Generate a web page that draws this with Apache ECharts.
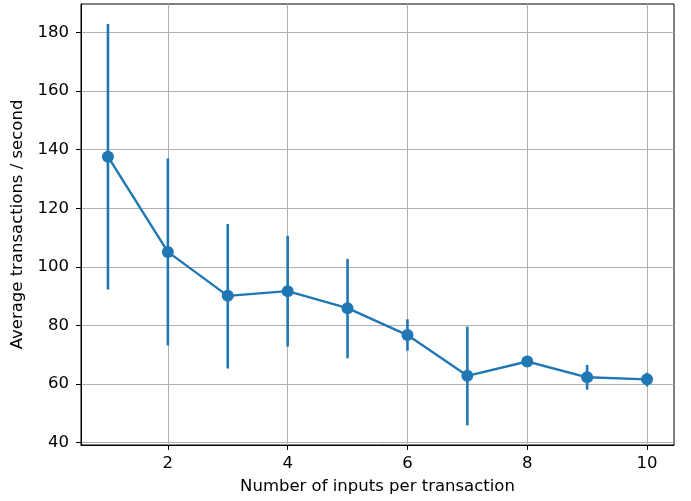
<!DOCTYPE html>
<html>
<head>
<meta charset="utf-8">
<script src="https://cdn.jsdelivr.net/npm/echarts@6/dist/echarts.min.js"></script>
<style>
html,body{margin:0;padding:0;background:#fff;}
#chart{width:691px;height:501px;}
</style>
</head>
<body>
<div id="chart"></div>
<script>
const inputs = [1, 2, 3, 4, 5, 6, 7, 8, 9, 10];
const avgTps = [137.6, 105.1, 90.1, 91.7, 85.9, 76.7, 62.8, 67.7, 62.3, 61.6];
const errLow = [92.3, 73.2, 65.3, 72.8, 68.8, 71.4, 45.9, 67.2, 58.1, 59.2];
const errHigh = [182.9, 137.0, 114.6, 110.6, 102.7, 82.1, 79.6, 68.2, 66.5, 63.9];
const xTicks = [2, 4, 6, 8, 10];
const yTicks = [40, 60, 80, 100, 120, 140, 160, 180];

const color = '#1f77b4';
const font = 'DejaVu Sans';

const lineData = inputs.map((x, i) => [x, avgTps[i]]);
const errData = inputs.map((x, i) => [x, errLow[i], errHigh[i]]);

const chart = echarts.init(document.getElementById('chart'), null, {renderer: 'canvas'});
chart.setOption({
  animation: false,
  backgroundColor: '#fff',
  grid: {left: 81, top: 4, right: 17, bottom: 56, show: true, borderColor: '#000', borderWidth: 1, containLabel: false},
  xAxis: {
    type: 'value', min: 0.55, max: 10.45,
    name: 'Number of inputs per transaction', nameLocation: 'middle', nameGap: 33,
    nameTextStyle: {fontFamily: font, fontSize: 16.5, color: '#000'},
    axisLine: {show: true, lineStyle: {color: '#000', width: 1}},
    axisTick: {show: true, length: 5, customValues: xTicks, lineStyle: {color: '#000', width: 1}},
    axisLabel: {fontFamily: font, fontSize: 16.5, color: '#000', margin: 10, customValues: xTicks},
    splitLine: {show: true, lineStyle: {color: '#b0b0b0', width: 1}}
  },
  yAxis: {
    type: 'value', min: 39.2, max: 189.7,
    name: 'Average transactions / second', nameLocation: 'middle', nameGap: 51,
    nameTextStyle: {fontFamily: font, fontSize: 16.5, color: '#000'},
    axisLine: {show: true, lineStyle: {color: '#000', width: 1}},
    axisTick: {show: true, length: 5, customValues: yTicks, lineStyle: {color: '#000', width: 1}},
    axisLabel: {fontFamily: font, fontSize: 16.5, color: '#000', margin: 12, customValues: yTicks},
    splitLine: {show: true, lineStyle: {color: '#b0b0b0', width: 1}}
  },
  series: [
    {
      type: 'custom',
      data: errData,
      encode: {x: 0, y: [1, 2]},
      renderItem: function (params, api) {
        const x = api.value(0);
        const lo = api.coord([x, api.value(1)]);
        const hi = api.coord([x, api.value(2)]);
        return {
          type: 'line',
          shape: {x1: lo[0], y1: lo[1], x2: hi[0], y2: hi[1]},
          style: {stroke: color, lineWidth: 2.6}
        };
      },
      z: 2
    },
    {
      type: 'line',
      data: lineData,
      symbol: 'circle',
      symbolSize: 12,
      itemStyle: {color: color},
      lineStyle: {color: color, width: 2.4},
      z: 3
    }
  ]
});
</script>
</body>
</html>
